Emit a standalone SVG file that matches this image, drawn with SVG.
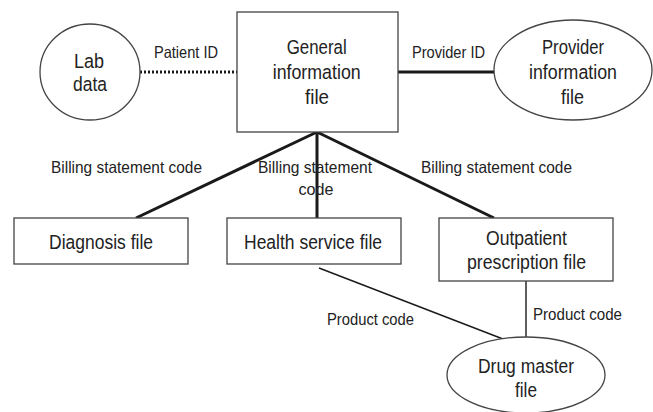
<svg xmlns="http://www.w3.org/2000/svg" width="653" height="412" viewBox="0 0 653 412">
  <style>
    .box { fill: #fff; stroke: #444; stroke-width: 1.3; }
    .node-text { font-family: "Liberation Sans", Arial, sans-serif; font-size: 20.5px; fill: #222; text-anchor: middle; }
    .label { font-family: "Liberation Sans", Arial, sans-serif; font-size: 16.5px; fill: #222; text-anchor: middle; }
    .thick { stroke: #1a1a1a; stroke-width: 3; fill: none; }
    .thin { stroke: #1a1a1a; stroke-width: 1.4; fill: none; }
    .dotted { stroke: #1a1a1a; stroke-width: 3; stroke-dasharray: 2 2; fill: none; }
  </style>
  <rect width="653" height="412" fill="#fff"/>

  <!-- connectors -->
  <g id="connectors">
    <line class="dotted" x1="140" y1="72" x2="237" y2="72"/>
    <line class="thick" x1="398" y1="72" x2="494" y2="72"/>
    <line class="thick" x1="317" y1="132" x2="136" y2="218"/>
    <line class="thick" x1="317" y1="132" x2="317" y2="218"/>
    <line class="thick" x1="317" y1="132" x2="494" y2="218"/>
    <line class="thin" x1="319" y1="268" x2="503" y2="339"/>
    <line class="thin" x1="526" y1="281" x2="526" y2="337"/>
  </g>

  <!-- connector labels -->
  <g id="labels">
    <text class="label" x="186" y="58" textLength="64" lengthAdjust="spacingAndGlyphs">Patient ID</text>
    <text class="label" x="448.5" y="58" textLength="73" lengthAdjust="spacingAndGlyphs">Provider ID</text>
    <text class="label" x="126.5" y="172.5" textLength="151" lengthAdjust="spacingAndGlyphs">Billing statement code</text>
    <text class="label" x="315" y="172.5" textLength="114" lengthAdjust="spacingAndGlyphs">Billing statement</text>
    <text class="label" x="316" y="195" textLength="35" lengthAdjust="spacingAndGlyphs">code</text>
    <text class="label" x="496.5" y="172.5" textLength="151" lengthAdjust="spacingAndGlyphs">Billing statement code</text>
    <text class="label" x="370.5" y="325" textLength="87" lengthAdjust="spacingAndGlyphs">Product code</text>
    <text class="label" x="577.5" y="320" textLength="89" lengthAdjust="spacingAndGlyphs">Product code</text>
  </g>

  <g id="general-information-file">
    <rect class="box" x="237" y="12" width="161" height="120"/>
    <text class="node-text" x="316.7" y="54" textLength="60" lengthAdjust="spacingAndGlyphs">General</text>
    <text class="node-text" x="316.7" y="79" textLength="88" lengthAdjust="spacingAndGlyphs">information</text>
    <text class="node-text" x="317" y="104" textLength="24" lengthAdjust="spacingAndGlyphs">file</text>
  </g>

  <g id="lab-data">
    <ellipse class="box" cx="90" cy="72" rx="50" ry="48"/>
    <text class="node-text" x="89" y="68" textLength="30" lengthAdjust="spacingAndGlyphs">Lab</text>
    <text class="node-text" x="90" y="90.5" textLength="34" lengthAdjust="spacingAndGlyphs">data</text>
  </g>

  <g id="provider-information-file">
    <ellipse class="box" cx="573" cy="70" rx="79" ry="50"/>
    <text class="node-text" x="573" y="54" textLength="62" lengthAdjust="spacingAndGlyphs">Provider</text>
    <text class="node-text" x="573" y="79" textLength="88" lengthAdjust="spacingAndGlyphs">information</text>
    <text class="node-text" x="572.5" y="104" textLength="23" lengthAdjust="spacingAndGlyphs">file</text>
  </g>

  <g id="diagnosis-file">
    <rect class="box" x="14" y="218" width="174" height="46"/>
    <text class="node-text" x="101" y="249" textLength="104" lengthAdjust="spacingAndGlyphs">Diagnosis file</text>
  </g>

  <g id="health-service-file">
    <rect class="box" x="227" y="218" width="174" height="46"/>
    <text class="node-text" x="313" y="249" textLength="138" lengthAdjust="spacingAndGlyphs">Health service file</text>
  </g>

  <g id="outpatient-prescription-file">
    <rect class="box" x="439" y="218" width="174" height="63"/>
    <text class="node-text" x="526.5" y="245" textLength="81" lengthAdjust="spacingAndGlyphs">Outpatient</text>
    <text class="node-text" x="526.5" y="269" textLength="119" lengthAdjust="spacingAndGlyphs">prescription file</text>
  </g>

  <g id="drug-master-file">
    <ellipse class="box" cx="526" cy="375" rx="79" ry="38"/>
    <text class="node-text" x="526" y="373" textLength="96" lengthAdjust="spacingAndGlyphs">Drug master</text>
    <text class="node-text" x="526" y="397" textLength="22" lengthAdjust="spacingAndGlyphs">file</text>
  </g>
</svg>
